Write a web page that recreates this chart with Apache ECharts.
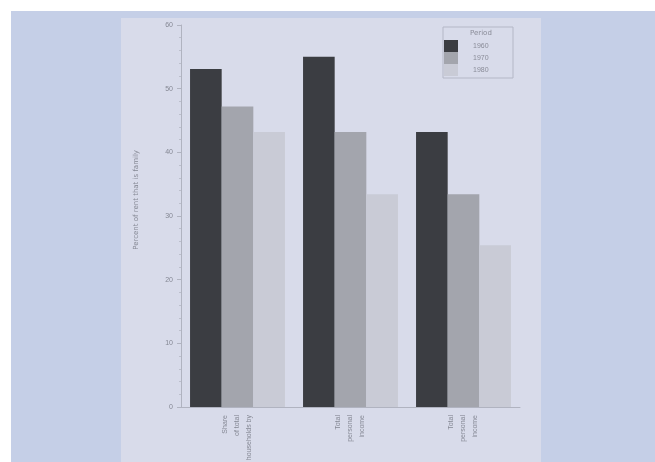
<!DOCTYPE html>
<html><head><meta charset="utf-8">
<script src="https://cdn.jsdelivr.net/npm/echarts@6/dist/echarts.min.js"></script>
<style>html,body{margin:0;padding:0;background:#fff}#c{width:655px;height:462px}</style>
</head><body><div id="c"></div>
<script>
const categories = ["Share\nof total\nhouseholds by", "Total\npersonal\nincome", "Total\npersonal\nincome"];
const periods = ["1960", "1970", "1980"];
const values1960 = [53.1, 55.0, 43.2];
const values1970 = [47.2, 43.2, 33.4];
const values1980 = [43.2, 33.4, 25.4];
const yTicks = [0, 10, 20, 30, 40, 50, 60];
const colors = ["#3b3d42", "#a3a5ad", "#c9cbd6"];
const seriesValues = [values1960, values1970, values1980];

const chart = echarts.init(document.getElementById('c'));
chart.setOption({
  animation: false,
  backgroundColor: '#ffffff',
  graphic: [
    {type:'rect', shape:{x:11,y:11,width:644,height:451}, style:{fill:'#c5cfe7'}, z:-10},
    {type:'rect', shape:{x:121,y:18,width:420,height:444}, style:{fill:'#d8dbea'}, z:-9},
    {type:'rect', shape:{x:443,y:27,width:70,height:51}, style:{fill:'none', stroke:'#b4b7c6', lineWidth:1}, z:10},
    {type:'text', left:470, top:30, style:{text:'Period', fill:'#8a8c98', font:'7px "DejaVu Sans"'}, z:11},
    {type:'text', left:133, top:150, rotation:Math.PI/2, style:{text:'Percent of rent that is family', fill:'#858894', font:'7px "DejaVu Sans"'}}
  ],
  legend: {
    orient:'vertical', left:444, top:40, padding:0, itemWidth:14, itemHeight:12, itemGap:0,
    icon:'rect', textStyle:{color:'#8a8c98', fontSize:7, padding:[0,0,0,10]},
    data: periods
  },
  grid: {left:181, top:25, right:135, bottom:55, outerBoundsMode:'none', containLabel:false},
  xAxis: {
    type:'category', data: categories,
    axisLine:{lineStyle:{color:'#b0b3c0'}},
    axisTick:{show:false},
    axisLabel:{rotate:90, color:'#858894', fontSize:7, lineHeight:12, margin:8, interval:0, align:'right', padding:[0,0,0,6]}
  },
  yAxis: {
    type:'value', min:0, max:60, interval:10,
    axisLine:{show:true, lineStyle:{color:'#b0b3c0'}},
    axisTick:{show:true, length:4, lineStyle:{color:'#b0b3c0'}},
    minorTick:{show:true, splitNumber:5, length:2, lineStyle:{color:'#bcbfcc'}},
    splitLine:{show:false},
    axisLabel:{color:'#858894', fontSize:7, margin:8, formatter: v => yTicks.includes(v) ? String(v) : ''}
  },
  series: periods.map((p,i)=>({
    name:p, type:'bar', data: seriesValues[i], barGap:'0%', barCategoryGap:'16%',
    itemStyle:{color: colors[i]}
  }))
});
</script></body></html>
